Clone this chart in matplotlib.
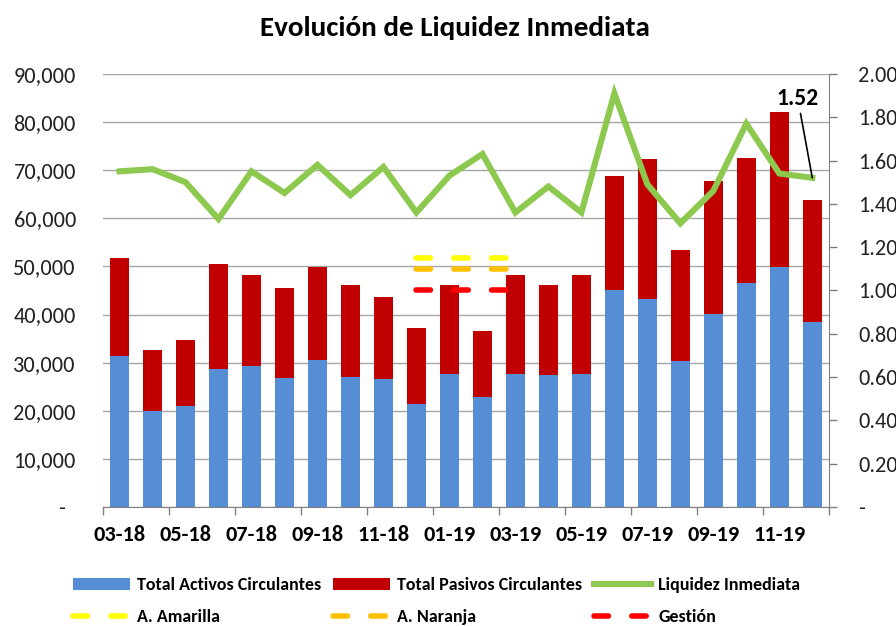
import matplotlib
matplotlib.use("Agg")
import matplotlib.pyplot as plt
from matplotlib import font_manager
from matplotlib.ticker import FuncFormatter, FixedLocator

# pick a Calibri-like face if one is installed
_names = {f.name for f in font_manager.fontManager.ttflist}
FONT = next((f for f in ["Carlito", "Lato", "Open Sans", "DejaVu Sans"] if f in _names), "DejaVu Sans")
plt.rcParams["font.family"] = [FONT, "DejaVu Sans"]

months = ["03-18", "04-18", "05-18", "06-18", "07-18", "08-18", "09-18", "10-18",
          "11-18", "12-18", "01-19", "02-19", "03-19", "04-19", "05-19", "06-19",
          "07-19", "08-19", "09-19", "10-19", "11-19", "12-19"]
activos = [31300, 19900, 20900, 28600, 29300, 26800, 30500, 27000, 26600, 21400, 27700,
           22800, 27700, 27400, 27700, 45000, 43200, 30300, 40200, 46500, 49800, 38400]
totales = [51700, 32700, 34800, 50600, 48200, 45500, 49900, 46200, 43600, 37300, 46200,
           36600, 48200, 46200, 48200, 68700, 72300, 53500, 67800, 72600, 82000, 63700]
pasivos = [t - a for t, a in zip(totales, activos)]
liquidez = [1.55, 1.56, 1.50, 1.33, 1.55, 1.45, 1.58, 1.44, 1.57, 1.36, 1.53,
            1.63, 1.36, 1.48, 1.36, 1.91, 1.49, 1.31, 1.46, 1.77, 1.54, 1.52]
# alert thresholds, drawn only over 12-18 .. 03-19
umbral_idx = [9, 10, 11, 12]
amarilla = [1.15] * 4
naranja = [1.10] * 4
gestion = [1.00] * 4

C_BLUE, C_RED, C_GREEN = "#558ED5", "#C00000", "#8DC94E"
GRID = "#A6A6A6"

x = list(range(len(months)))
fig = plt.figure(figsize=(8.96, 6.26), dpi=100)
ax = fig.add_axes([0.115, 0.19, 0.81, 0.692])
ax2 = ax.twinx()

b1 = ax.bar(x, activos, width=0.59, color=C_BLUE, zorder=2, label="Total Activos Circulantes")
b2 = ax.bar(x, pasivos, width=0.59, bottom=activos, color=C_RED, zorder=2,
            label="Total Pasivos Circulantes")

ln, = ax2.plot(x, liquidez, color=C_GREEN, lw=4.4, solid_joinstyle="miter",
               label="Liquidez Inmediata", zorder=3)
kw = dict(lw=4, dashes=(2.6, 4.2), dash_capstyle="round", zorder=3)
l1, = ax2.plot(umbral_idx, amarilla, color="#FFFF00", label="A. Amarilla", **kw)
l2, = ax2.plot(umbral_idx, naranja, color="#FFC000", label="A. Naranja", **kw)
l3, = ax2.plot(umbral_idx, gestion, color="#FF0000", label="Gestión", **kw)

ax2.annotate(f"{liquidez[-1]:.2f}", xy=(x[-1], liquidez[-1]), xytext=(20.56, 1.885),
             ha="center", va="center", fontsize=17, fontweight="bold",
             arrowprops=dict(arrowstyle="-", color="black", lw=1.2, shrinkA=1, shrinkB=0))

ax.set_xlim(-0.5, len(months) - 0.5)
ax.set_ylim(0, 90000)
ax2.set_ylim(0, 2.0)
ax.set_yticks(range(0, 90001, 10000))
ax2.set_yticks([i / 5 for i in range(11)])
ax.yaxis.set_major_formatter(FuncFormatter(lambda v, p: "-  " if v == 0 else f"{v:,.0f}"))
ax2.yaxis.set_major_formatter(FuncFormatter(lambda v, p: "-" if v == 0 else f"{v:.2f}"))
ax.grid(axis="y", color=GRID, lw=1, zorder=0)
ax.set_axisbelow(True)

ax.set_xticks(x[::2])
ax.set_xticklabels(months[::2], fontsize=16, fontweight="bold")
ax.xaxis.set_minor_locator(FixedLocator([i - 0.5 for i in range(0, len(months) + 1, 2)]))
ax.tick_params(axis="x", which="major", length=0, pad=13)
ax.tick_params(axis="x", which="minor", length=6, width=1, color="#808080")
ax.tick_params(axis="y", length=0, labelsize=16, pad=19.5, colors="#222222")
ax2.tick_params(axis="y", length=6, width=1, color="#808080", labelsize=16, pad=15,
                labelcolor="#222222")

for s in ["top", "left"]:
    ax.spines[s].set_visible(False)
    ax2.spines[s].set_visible(False)
ax.spines["right"].set_visible(False)
ax2.spines["bottom"].set_visible(False)
ax.spines["bottom"].set_color("#808080")
ax2.spines["right"].set_color("#808080")

fig.text(0.508, 0.955, "Evolución de Liquidez Inmediata", ha="center", va="center",
         fontsize=21, fontweight="bold")

handles = [b1, l1, b2, l2, ln, l3]
fig.legend(handles, [h.get_label() for h in handles], ncol=3, loc="lower left",
           bbox_to_anchor=(0.0633, -0.025), frameon=False, handlelength=3.15, handletextpad=0.4,
           columnspacing=0.66, labelspacing=0.9, prop=dict(size=13, weight="bold"))

fig.savefig("out.png", dpi=100)
